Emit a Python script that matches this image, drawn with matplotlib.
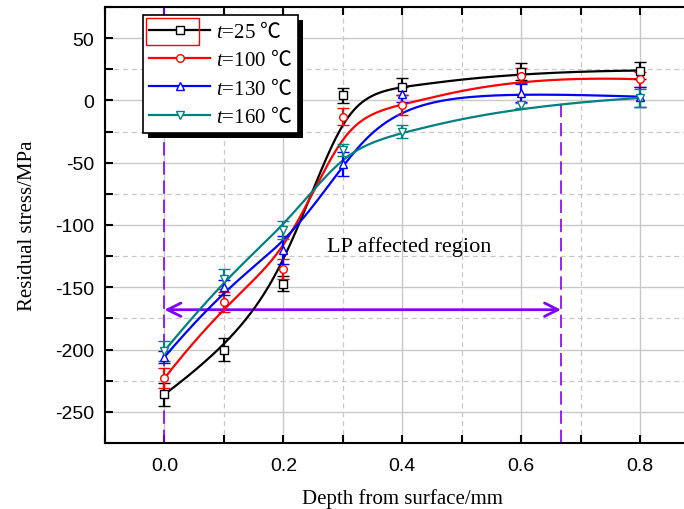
import numpy as np
import matplotlib
matplotlib.use('Agg')
import matplotlib.pyplot as plt
from matplotlib.ticker import MultipleLocator
from matplotlib.patches import Rectangle
from matplotlib.lines import Line2D

plt.rcParams['font.family'] = ['Liberation Serif', 'Noto Sans CJK SC']
plt.rcParams['mathtext.fontset'] = 'custom'
plt.rcParams['mathtext.it'] = 'Liberation Serif:italic'
plt.rcParams['mathtext.rm'] = 'Liberation Serif'
plt.rcParams['mathtext.sf'] = 'Noto Sans CJK SC'
plt.rcParams['axes.unicode_minus'] = False

# data
depth = [0.0, 0.1, 0.2, 0.3, 0.4, 0.6, 0.8]
temps = ['25', '100', '130', '160']
stress_25 = [-236, -200, -147, 4, 11, 23, 24]
err_25 = [9, 9, 6, 6, 7, 7, 7]
stress_100 = [-223, -162, -135, -13, -4, 20, 17]
err_100 = [8, 8, 8, 7, 8, 6, 6]
stress_130 = [-206, -150, -120, -51, 5, 6, 3]
err_130 = [5, 6, 11, 10, 6, 7, 8]
stress_160 = [-201, -143, -104, -40, -25, -4, 2]
err_160 = [8, 8, 7, 5, 5, 2, 7]

stresses = [stress_25, stress_100, stress_130, stress_160]
errors = [err_25, err_100, err_130, err_160]
colors = ['black', '#FF0000', '#0000FF', '#008080']
markers = ['s', 'o', '^', 'v']
purple = '#8000FF'

lp_depth = 0.667
arrow_y = -168


def bspline(xs, ys, n=400):
    # clamped cubic B-spline using the data points as control points
    P = np.column_stack([xs, ys]).astype(float)
    m = len(P)
    k = 3
    knots = np.concatenate([np.zeros(k), np.arange(m - k + 1), np.full(k, m - k)])
    t = np.linspace(0, m - k, n)
    t[-1] -= 1e-9

    def basis(i, p, t):
        if p == 0:
            return ((knots[i] <= t) & (t < knots[i + 1])).astype(float)
        out = np.zeros_like(t)
        d1 = knots[i + p] - knots[i]
        if d1 > 0:
            out += (t - knots[i]) / d1 * basis(i, p - 1, t)
        d2 = knots[i + p + 1] - knots[i + 1]
        if d2 > 0:
            out += (knots[i + p + 1] - t) / d2 * basis(i + 1, p - 1, t)
        return out

    B = np.array([basis(i, k, t) for i in range(m)])
    c = B.T @ P
    return c[:, 0], c[:, 1]


fig = plt.figure(figsize=(6.84, 5.10), dpi=100)
ax = fig.add_axes([105 / 684, 1 - 444 / 510, 594.5 / 684, 436 / 510])

for s, e, c, mk in zip(stresses, errors, colors, markers):
    cx, cy = bspline(depth, s)
    ax.plot(cx, cy, color=c, lw=1.6, zorder=3)
    ax.errorbar(depth, s, yerr=e, fmt=mk, ms=5.5, mfc='white', mec=c, mew=1,
                ecolor=c, elinewidth=1.6, capsize=4.5, capthick=1.8, zorder=4)

# LP affected region annotation
ax.axvline(0.0, color=purple, lw=1.2, ls=(0, (8, 3.5)), zorder=2)
ax.plot([lp_depth, lp_depth], [-275, 0], color=purple, lw=1.2, ls=(0, (8, 3.5)), zorder=2)
ax.annotate('', xy=(0.0, arrow_y), xytext=(lp_depth, arrow_y),
            arrowprops=dict(arrowstyle='<->,head_length=0.6,head_width=0.3',
                            color=purple, lw=2, shrinkA=0, shrinkB=0, mutation_scale=16),
            zorder=2)
ax.text(0.412, -117, 'LP affected region', ha='center', va='center', fontsize=16)

ax.set_xlim(-0.1, 0.9)
ax.set_ylim(-275, 75)
ax.xaxis.set_major_locator(MultipleLocator(0.2))
ax.xaxis.set_minor_locator(MultipleLocator(0.1))
ax.yaxis.set_major_locator(MultipleLocator(50))
ax.yaxis.set_minor_locator(MultipleLocator(25))
ax.grid(which='major', color='#C8C8C8', lw=1, ls='-')
ax.grid(which='minor', color='#C8C8C8', lw=0.9, ls=(0, (4, 3)))
ax.set_axisbelow(True)

ax.tick_params(which='both', direction='in', length=6, width=1.5, top=True, right=False)
ax.tick_params(axis='x', which='major', pad=10)
ax.tick_params(axis='y', which='major', pad=8)
for lab in ax.get_xticklabels() + ax.get_yticklabels():
    lab.set_fontfamily('Liberation Sans')
    lab.set_fontsize(14)
for sp in ax.spines.values():
    sp.set_linewidth(1.5)

ax.set_xlabel('Depth from surface/mm', fontsize=15, labelpad=10)
ax.set_ylabel('Residual stress/MPa', fontsize=15, labelpad=13)

handles = [Line2D([], [], color=c, lw=1.6, marker=mk, ms=5.5, mfc='white', mec=c)
           for c, mk in zip(colors, markers)]
labels = ['$t$=%s $\\mathsf{\u2103}$' % t for t in temps]
leg = ax.legend(handles, labels, loc='upper left', bbox_to_anchor=(0.064, 0.982),
                borderaxespad=0, fontsize=15, handlelength=2.9, handletextpad=0.3,
                labelspacing=0.35, borderpad=0.3, fancybox=False, framealpha=1,
                edgecolor='black')
leg.get_frame().set_linewidth(1.2)
leg.set_zorder(6)

# legend shadow
fig.canvas.draw()
bb = leg.get_window_extent().transformed(ax.transAxes.inverted())
off_x = 5 / 594.5
off_y = 5 / 436
ax.add_patch(Rectangle((bb.x0 + off_x, bb.y0 - off_y), bb.width, bb.height,
                       transform=ax.transAxes, fc='black', ec='none', zorder=5.5,
                       clip_on=False))

# selection box around first legend entry
fig.add_artist(Rectangle((146 / 684, 1 - 46 / 510), 53 / 684, 27 / 510,
                         transform=fig.transFigure, fill=False, ec='red', lw=1, zorder=10))

fig.savefig('out.png', dpi=100)
